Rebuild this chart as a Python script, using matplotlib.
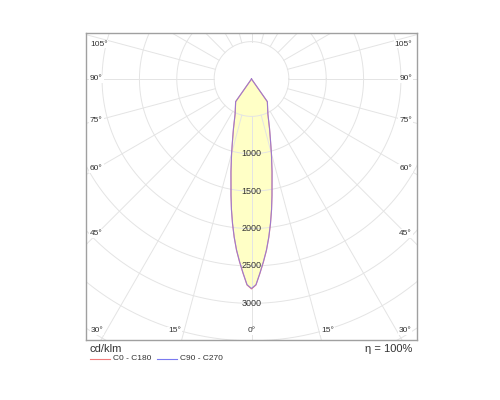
"""Polar light distribution curve (cd/klm), C0-C180 and C90-C270 planes."""

import numpy as np
import matplotlib
matplotlib.use("Agg")
import matplotlib.pyplot as plt
from matplotlib.lines import Line2D

plt.rcParams["font.family"] = ["Liberation Sans", "DejaVu Sans"]

# gamma angle (deg from nadir) and intensity (cd/klm)
gamma = [0, 1.25, 2.5, 3.75, 5, 6.25, 7.5, 8.75, 10, 12.5, 15, 17.5, 20, 25, 30, 35,
         40, 50, 60, 70, 80, 90]
c0_c180 = [2807, 2755, 2600, 2450, 2300, 2130, 1950, 1765, 1580, 1270, 1030, 840, 705,
           520, 430, 370, 0, 0, 0, 0, 0, 0]
c90_c270 = [2800, 2750, 2595, 2445, 2295, 2125, 1945, 1765, 1580, 1270, 1030, 840, 705,
            520, 430, 370, 0, 0, 0, 0, 0, 0]

ring_values = [500, 1000, 1500, 2000, 2500, 3000, 3500, 4000, 4500]
ring_labels = [1000, 1500, 2000, 2500, 3000]
side_angles = [45, 60, 75, 90, 105]
bottom_angles = [30, 15, 0]
eta = "η = 100%"
unit = "cd/klm"
legend_names = ["C0 - C180", "C90 - C270"]

RED = "#f07a7a"
BLUE = "#7a7af0"
GRID = "#e4e4e4"
TXT = "#333333"

PX = 1000 / 74.7          # data units per pixel
XL, XR = -2215, 2215
YB, YT = -3490, 615


def outline(vals):
    g = np.radians(np.array(gamma, dtype=float))
    v = np.array(vals, dtype=float)
    x = np.concatenate([-(v * np.sin(g))[::-1], (v * np.sin(g))[1:]])
    y = np.concatenate([-(v * np.cos(g))[::-1], -(v * np.cos(g))[1:]])
    return x, y


fig = plt.figure(figsize=(5, 4), dpi=100)
ax = fig.add_axes([86 / 500, 60 / 400, 331 / 500, 307 / 400])
ax.set_xlim(XL, XR)
ax.set_ylim(YB, YT)
ax.set_xticks([])
ax.set_yticks([])
for sp in ax.spines.values():
    sp.set_color("#a0a0a0")
    sp.set_linewidth(1.0)

# fill + outlines
xr, yr = outline(c0_c180)
xb, yb = outline(c90_c270)
ax.fill(xr, yr, color="#ffffc6", zorder=1, lw=0)

# grid: rings and spokes (spokes start at the first ring)
t = np.linspace(0, 2 * np.pi, 400)
for r in ring_values:
    ax.plot(r * np.cos(t), r * np.sin(t), color=GRID, lw=0.7, zorder=2)
for a in range(0, 360, 15):
    ar = np.radians(a)
    ax.plot([500 * np.sin(ar), 6000 * np.sin(ar)],
            [-500 * np.cos(ar), -6000 * np.cos(ar)], color=GRID, lw=0.7, zorder=2)

ax.plot(xr, yr, color=RED, lw=0.8, zorder=3)
ax.plot(xb, yb, color=BLUE, lw=0.8, alpha=0.7, zorder=4)

# intensity labels along the nadir line
for v in ring_labels:
    ax.text(0, -v, str(v), ha="center", va="center", fontsize=6.5, color=TXT, zorder=5)

# angle labels on left / right edges
box = dict(facecolor="white", edgecolor="none", pad=0.6)
for a in side_angles:
    ar = np.radians(a)
    xin = XR - 11 * PX
    yl = -xin / np.tan(ar)
    yl = min(yl, YT - 11 * PX)
    ax.text(XL + 4 * PX, yl, f"{a}°", ha="left", va="center", fontsize=6,
            color=TXT, bbox=box, zorder=6)
    ax.text(XR - 5 * PX, yl, f"{a}°", ha="right", va="center", fontsize=6,
            color=TXT, bbox=box, zorder=6)

# angle labels along the bottom edge
yb_lab = YB + 9 * PX
for a in bottom_angles:
    xc = -yb_lab * np.tan(np.radians(a))
    if a == 0:
        ax.text(0, yb_lab, "0°", ha="center", va="center", fontsize=6,
                color=TXT, bbox=box, zorder=6)
        continue
    ax.text(-xc - 3 * PX, yb_lab, f"{a}°", ha="right", va="center", fontsize=6,
            color=TXT, bbox=box, zorder=6)
    ax.text(xc + 2 * PX, yb_lab, f"{a}°", ha="left", va="center", fontsize=6,
            color=TXT, bbox=box, zorder=6)

# footer: unit, efficiency, legend
fig.text(90 / 500, 1 - 349 / 400, unit, ha="left", va="center", fontsize=8, color=TXT)
fig.text(412 / 500, 1 - 349 / 400, eta, ha="right", va="center", fontsize=8, color=TXT)
ly = 1 - 358.5 / 400
fig.add_artist(Line2D([90 / 500, 110 / 500], [ly, ly], color=RED, lw=0.8))
fig.text(113 / 500, ly, legend_names[0], ha="left", va="center", fontsize=6, color=TXT)
fig.add_artist(Line2D([157 / 500, 177 / 500], [ly, ly], color=BLUE, lw=0.8))
fig.text(180 / 500, ly, legend_names[1], ha="left", va="center", fontsize=6, color=TXT)

fig.savefig("out.png", dpi=100)
